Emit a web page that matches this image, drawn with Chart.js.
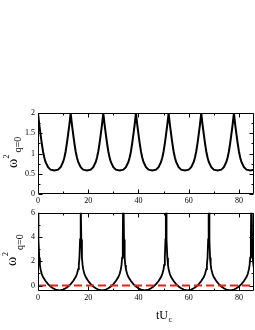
<!DOCTYPE html>
<html>
<head>
<meta charset="utf-8">
<script src="https://cdn.jsdelivr.net/npm/chart.js@4.4.0/dist/chart.umd.min.js"></script>
<style>
    body { margin: 0; background: #fff; width: 255px; height: 330px; overflow: hidden; position: relative; }
    canvas { position: absolute; left: 0; }
    #topChart { top: 100px; }
    #botChart { top: 205px; }
</style>
</head>
<body>
<canvas id="topChart" width="255" height="110"></canvas>
<canvas id="botChart" width="255" height="125"></canvas>
<script>
// Top panel: omega^2_q=0 vs tU_c
const tTop = [
    0, 0.5, 1, 1.5, 2, 2.5, 3, 4, 5, 6.5, 8, 9, 10, 10.5, 11, 11.5, 12, 12.5,
    13, 13.5, 14, 14.5, 15, 15.5, 16, 17, 18, 19.5, 21, 22, 23, 23.5, 24, 24.5, 25, 25.5,
    26, 26.5, 27, 27.5, 28, 28.5, 29, 30, 31, 32.5, 34, 35, 36, 36.5, 37, 37.5, 38, 38.5,
    39, 39.5, 40, 40.5, 41, 41.5, 42, 43, 44, 45.5, 47, 48, 49, 49.5, 50, 50.5, 51, 51.5,
    52, 52.5, 53, 53.5, 54, 54.5, 55, 56, 57, 58.5, 60, 61, 62, 62.5, 63, 63.5, 64, 64.5,
    65, 65.5, 66, 66.5, 67, 67.5, 68, 69, 70, 71.5, 73, 74, 75, 75.5, 76, 76.5, 77, 77.5,
    78, 78.5, 79, 79.5, 80, 80.5, 81, 82, 83, 84.5, 86
];
const wTop = [
    2, 1.72, 1.48, 1.25, 1.05, 0.9, 0.79, 0.66, 0.6, 0.58, 0.6, 0.66, 0.79, 0.9, 1.05, 1.25, 1.48, 1.72,
    2, 1.72, 1.48, 1.25, 1.05, 0.9, 0.79, 0.66, 0.6, 0.58, 0.6, 0.66, 0.79, 0.9, 1.05, 1.25, 1.48, 1.72,
    2, 1.72, 1.48, 1.25, 1.05, 0.9, 0.79, 0.66, 0.6, 0.58, 0.6, 0.66, 0.79, 0.9, 1.05, 1.25, 1.48, 1.72,
    2, 1.72, 1.48, 1.25, 1.05, 0.9, 0.79, 0.66, 0.6, 0.58, 0.6, 0.66, 0.79, 0.9, 1.05, 1.25, 1.48, 1.72,
    2, 1.72, 1.48, 1.25, 1.05, 0.9, 0.79, 0.66, 0.6, 0.58, 0.6, 0.66, 0.79, 0.9, 1.05, 1.25, 1.48, 1.72,
    2, 1.72, 1.48, 1.25, 1.05, 0.9, 0.79, 0.66, 0.6, 0.58, 0.6, 0.66, 0.79, 0.9, 1.05, 1.25, 1.48, 1.72,
    2, 1.72, 1.48, 1.25, 1.05, 0.9, 0.79, 0.66, 0.6, 0.58, 0.6
];

// Bottom panel
const tBot = [
    0, 0.1, 0.25, 0.5, 0.75, 1, 1.5, 2, 3, 4, 5, 6, 7, 8.5, 10, 11, 12, 13, 14, 15, 15.5, 16, 16.25, 16.5, 16.75, 16.9,
    17, 17.1, 17.25, 17.5, 17.75, 18, 18.5, 19, 20, 21, 22, 23, 24, 25.5, 27, 28, 29, 30, 31, 32, 32.5, 33, 33.25, 33.5, 33.75, 33.9,
    34, 34.1, 34.25, 34.5, 34.75, 35, 35.5, 36, 37, 38, 39, 40, 41, 42.5, 44, 45, 46, 47, 48, 49, 49.5, 50, 50.25, 50.5, 50.75, 50.9,
    51, 51.1, 51.25, 51.5, 51.75, 52, 52.5, 53, 54, 55, 56, 57, 58, 59.5, 61, 62, 63, 64, 65, 66, 66.5, 67, 67.25, 67.5, 67.75, 67.9,
    68, 68.1, 68.25, 68.5, 68.75, 69, 69.5, 70, 71, 72, 73, 74, 75, 76.5, 78, 79, 80, 81, 82, 83, 83.5, 84, 84.25, 84.5, 84.75, 84.9,
    85, 85.1, 85.25, 85.5, 85.75, 86
];
const wBot = [
    14, 7, 3.8, 2.3, 1.7, 1.35, 0.95, 0.7, 0.38, 0.12, -0.08, -0.23, -0.33, -0.4, -0.33, -0.23, -0.08, 0.12, 0.38, 0.7, 0.95, 1.35, 1.7, 2.3, 3.8, 7,
    14, 7, 3.8, 2.3, 1.7, 1.35, 0.95, 0.7, 0.38, 0.12, -0.08, -0.23, -0.33, -0.4, -0.33, -0.23, -0.08, 0.12, 0.38, 0.7, 0.95, 1.35, 1.7, 2.3, 3.8, 7,
    14, 7, 3.8, 2.3, 1.7, 1.35, 0.95, 0.7, 0.38, 0.12, -0.08, -0.23, -0.33, -0.4, -0.33, -0.23, -0.08, 0.12, 0.38, 0.7, 0.95, 1.35, 1.7, 2.3, 3.8, 7,
    14, 7, 3.8, 2.3, 1.7, 1.35, 0.95, 0.7, 0.38, 0.12, -0.08, -0.23, -0.33, -0.4, -0.33, -0.23, -0.08, 0.12, 0.38, 0.7, 0.95, 1.35, 1.7, 2.3, 3.8, 7,
    14, 7, 3.8, 2.3, 1.7, 1.35, 0.95, 0.7, 0.38, 0.12, -0.08, -0.23, -0.33, -0.4, -0.33, -0.23, -0.08, 0.12, 0.38, 0.7, 0.95, 1.35, 1.7, 2.3, 3.8, 7,
    14, 7, 3.8, 2.3, 1.7, 1.35
];

// zero reference line (red dashed)
const zeroX = [0, 86];
const zeroY = [0, 0];

// axis ticks
const xTicks = [0, 20, 40, 60, 80];
const xMinor = [10, 30, 50, 70];
const topYTicks = [0, 0.5, 1, 1.5, 2];
const topYMinor = [0.25, 0.75, 1.25, 1.75];
const botYTicks = [0, 2, 4, 6];
const botYMinor = [1, 3, 5];

const FONT = '"Liberation Serif", "DejaVu Serif", serif';
Chart.defaults.font.family = FONT;
Chart.defaults.font.size = 8;
Chart.defaults.color = '#000';

const pts = (xs, ys) => xs.map((x, i) => ({ x: x, y: ys[i] }));

// frame + inward ticks on all four sides
const boxTicks = {
    id: 'boxTicks',
    afterDatasetsDraw(chart, args, opts) {
        const { ctx, chartArea: a } = chart;
        const xs = chart.scales.x, ys = chart.scales.y;
        const L = Math.round(a.left) + 0.5, R = Math.round(a.right) - 0.5;
        const T = Math.round(a.top) + 0.5, B = Math.round(a.bottom) - 0.5;
        ctx.save();
        ctx.strokeStyle = '#000';
        ctx.lineWidth = 1;
        ctx.beginPath();
        ctx.rect(L, T, R - L, B - T);
        const xt = (vals, len) => vals.forEach(v => {
            const p = Math.round(xs.getPixelForValue(v)) + 0.5;
            ctx.moveTo(p, B); ctx.lineTo(p, B - len);
            ctx.moveTo(p, T); ctx.lineTo(p, T + len);
        });
        const yt = (vals, len) => vals.forEach(v => {
            const p = Math.round(ys.getPixelForValue(v)) + 0.5;
            ctx.moveTo(L, p); ctx.lineTo(L + len, p);
            ctx.moveTo(R, p); ctx.lineTo(R - len, p);
        });
        xt(xTicks, 4); xt(xMinor, 2);
        yt(opts.yMajor, 4); yt(opts.yMinor, 2);
        ctx.stroke();
        ctx.restore();
    }
};

// omega^2_{q=0} rotated title
function omegaTitle(u, v, supU, supV, subU, subV) {
    return {
        id: 'omegaTitle',
        afterDraw(chart) {
            const ctx = chart.ctx;
            ctx.save();
            ctx.rotate(-Math.PI / 2);
            ctx.fillStyle = '#000';
            ctx.textAlign = 'left';
            ctx.textBaseline = 'alphabetic';
            ctx.font = '14px ' + FONT;
            ctx.fillText('ω', u, v);
            ctx.font = '8px ' + FONT;
            ctx.fillText('2', supU, supV);
            ctx.font = '10px ' + FONT;
            ctx.fillText('q=0', subU, subV);
            ctx.restore();
        }
    };
}

function axes(yMin, yMax, yTicks, yW, xH) {
    return {
        x: {
            type: 'linear', min: 0, max: 86,
            grid: { display: false, drawTicks: false }, border: { display: false },
            ticks: { padding: 2, maxRotation: 0, callback: v => String(v) },
            afterBuildTicks: s => { s.ticks = xTicks.map(v => ({ value: v })); },
            afterFit: s => { s.height = xH; }
        },
        y: {
            type: 'linear', min: yMin, max: yMax,
            grid: { display: false, drawTicks: false }, border: { display: false },
            ticks: { padding: 3, callback: v => String(v) },
            afterBuildTicks: s => { s.ticks = yTicks.map(v => ({ value: v })); },
            afterFit: s => { s.width = yW; }
        }
    };
}

new Chart(document.getElementById('topChart'), {
    type: 'scatter',
    data: {
        datasets: [{
            data: pts(tTop, wTop),
            showLine: true, borderColor: '#000', borderWidth: 2,
            pointRadius: 0, tension: 0, clip: 0
        }]
    },
    options: {
        responsive: false, animation: false, devicePixelRatio: 1,
        layout: { padding: { top: 13, right: 1, bottom: 0, left: 0 } },
        plugins: {
            legend: { display: false }, tooltip: { enabled: false },
            boxTicks: { yMajor: topYTicks, yMinor: topYMinor }
        },
        scales: axes(0, 2, topYTicks, 38, 16)
    },
    plugins: [boxTicks, omegaTitle(-68, 17, -58.5, 9, -52.5, 20.5)]
});

new Chart(document.getElementById('botChart'), {
    type: 'scatter',
    data: {
        datasets: [{
            data: pts(zeroX, zeroY),
            showLine: true, borderColor: '#e8201c', borderWidth: 2,
            borderDash: [8, 4], pointRadius: 0, clip: 0
        }, {
            data: pts(tBot, wBot),
            showLine: true, borderColor: '#000', borderWidth: 1.8,
            pointRadius: 0, tension: 0, clip: 0
        }]
    },
    options: {
        responsive: false, animation: false, devicePixelRatio: 1,
        layout: { padding: { top: 6, right: 1, bottom: 0, left: 0 } },
        plugins: {
            legend: { display: false }, tooltip: { enabled: false },
            boxTicks: { yMajor: botYTicks, yMinor: botYMinor }
        },
        scales: axes(-0.45, 6, botYTicks, 38, 39)
    },
    plugins: [boxTicks, omegaTitle(-61, 16, -51, 8, -45, 23), {
        id: 'xTitle',
        afterDraw(chart) {
            const ctx = chart.ctx;
            ctx.save();
            ctx.fillStyle = '#000';
            ctx.textAlign = 'left';
            ctx.textBaseline = 'alphabetic';
            ctx.font = '12px ' + FONT;
            ctx.fillText('tU', 156, 114);
            ctx.font = '8px ' + FONT;
            ctx.fillText('c', 168.5, 117);
            ctx.restore();
        }
    }]
});
</script>
</body>
</html>
